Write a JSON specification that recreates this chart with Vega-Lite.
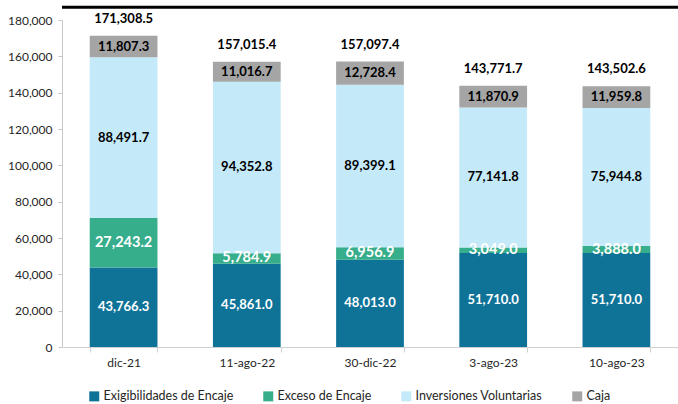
{
  "$schema": "https://vega.github.io/schema/vega-lite/v6.json",
  "width": 616,
  "height": 327,
  "autosize": {"type": "none"},
  "padding": {"left": 62, "top": 20, "right": 0, "bottom": 57},
  "background": "white",
  "config": {"view": {"stroke": null}, "font": "Lato"},
  "resolve": {"axis": {"y": "independent", "x": "independent"}},
  "datasets": {
    "seg": [
      {"fecha": "dic-21", "cat": "Exigibilidades de Encaje", "ord": 1, "valor": 43766.3},
      {"fecha": "dic-21", "cat": "Exceso de Encaje", "ord": 2, "valor": 27243.2},
      {"fecha": "dic-21", "cat": "Inversiones Voluntarias", "ord": 3, "valor": 88491.7},
      {"fecha": "dic-21", "cat": "Caja", "ord": 4, "valor": 11807.3},
      {"fecha": "11-ago-22", "cat": "Exigibilidades de Encaje", "ord": 1, "valor": 45861.0},
      {"fecha": "11-ago-22", "cat": "Exceso de Encaje", "ord": 2, "valor": 5784.9},
      {"fecha": "11-ago-22", "cat": "Inversiones Voluntarias", "ord": 3, "valor": 94352.8},
      {"fecha": "11-ago-22", "cat": "Caja", "ord": 4, "valor": 11016.7},
      {"fecha": "30-dic-22", "cat": "Exigibilidades de Encaje", "ord": 1, "valor": 48013.0},
      {"fecha": "30-dic-22", "cat": "Exceso de Encaje", "ord": 2, "valor": 6956.9},
      {"fecha": "30-dic-22", "cat": "Inversiones Voluntarias", "ord": 3, "valor": 89399.1},
      {"fecha": "30-dic-22", "cat": "Caja", "ord": 4, "valor": 12728.4},
      {"fecha": "3-ago-23", "cat": "Exigibilidades de Encaje", "ord": 1, "valor": 51710.0},
      {"fecha": "3-ago-23", "cat": "Exceso de Encaje", "ord": 2, "valor": 3049.0},
      {"fecha": "3-ago-23", "cat": "Inversiones Voluntarias", "ord": 3, "valor": 77141.8},
      {"fecha": "3-ago-23", "cat": "Caja", "ord": 4, "valor": 11870.9},
      {"fecha": "10-ago-23", "cat": "Exigibilidades de Encaje", "ord": 1, "valor": 51710.0},
      {"fecha": "10-ago-23", "cat": "Exceso de Encaje", "ord": 2, "valor": 3888.0},
      {"fecha": "10-ago-23", "cat": "Inversiones Voluntarias", "ord": 3, "valor": 75944.8},
      {"fecha": "10-ago-23", "cat": "Caja", "ord": 4, "valor": 11959.8}
    ],
    "tot": [
      {"fecha": "dic-21", "total": 171308.5},
      {"fecha": "11-ago-22", "total": 157015.4},
      {"fecha": "30-dic-22", "total": 157097.4},
      {"fecha": "3-ago-23", "total": 143771.7},
      {"fecha": "10-ago-23", "total": 143502.6}
    ]
  },
  "layer": [
    {
      "data": {"name": "seg"},
      "mark": {"type": "bar"},
      "encoding": {
        "x": {
          "field": "fecha",
          "type": "nominal",
          "sort": null,
          "scale": {"paddingInner": 0.45, "paddingOuter": 0.225},
          "axis": {
            "title": null,
            "labelAngle": 0,
            "labelFontSize": 12,
            "labelColor": "#262626",
            "domainColor": "#D0D0D0",
            "tickColor": "#D0D0D0",
            "tickSize": 5,
            "tickBand": "extent",
            "labelPadding": 5
          }
        },
        "y": {
          "field": "valor",
          "type": "quantitative",
          "stack": "zero",
          "scale": {"domain": [0, 180000], "nice": false},
          "axis": {
            "title": null,
            "grid": false,
            "format": ",.0f",
            "values": [0, 20000, 40000, 60000, 80000, 100000, 120000, 140000, 160000, 180000],
            "labelFontSize": 12,
            "labelColor": "#262626",
            "domainColor": "#C8C8C8",
            "tickColor": "#C8C8C8",
            "tickSize": 4,
            "labelPadding": 6
          }
        },
        "color": {
          "field": "cat",
          "type": "nominal",
          "scale": {
            "domain": ["Exigibilidades de Encaje", "Exceso de Encaje", "Inversiones Voluntarias", "Caja"],
            "range": ["#0F7398", "#36AD8B", "#C4E9F8", "#A5A5A5"]
          },
          "legend": {
            "title": null,
            "orient": "none",
            "direction": "horizontal",
            "legendX": 26,
            "legendY": 370,
            "symbolType": "square",
            "symbolSize": 100,
            "symbolStrokeWidth": 0,
            "symbolOpacity": 1,
            "labelFontSize": 12.5,
            "labelColor": "#262626",
            "columnPadding": 28,
            "labelOffset": 3
          }
        },
        "order": {"field": "ord", "type": "quantitative"}
      }
    },
    {
      "data": {"name": "seg"},
      "mark": {"type": "text", "fontWeight": "bold", "baseline": "middle"},
      "encoding": {
        "x": {"field": "fecha", "type": "nominal", "sort": null, "axis": null},
        "y": {"field": "valor", "type": "quantitative", "stack": "zero", "bandPosition": 0.5, "axis": null},
        "order": {"field": "ord", "type": "quantitative"},
        "text": {"field": "valor", "type": "quantitative", "format": ",.1f"},
        "color": {
          "condition": {"test": "datum.ord >= 3", "value": "#000000"},
          "value": "#FFFFFF"
        },
        "size": {
          "condition": {"test": "datum.ord == 2", "value": 14.5},
          "value": 13
        }
      }
    },
    {
      "data": {"name": "tot"},
      "mark": {"type": "text", "fontWeight": "bold", "baseline": "middle", "dy": -17, "fontSize": 13, "color": "#000000"},
      "encoding": {
        "x": {"field": "fecha", "type": "nominal", "sort": null, "axis": null},
        "y": {"field": "total", "type": "quantitative", "axis": null},
        "text": {"field": "total", "type": "quantitative", "format": ",.1f"}
      }
    },
    {
      "data": {"values": [{}]},
      "mark": {"type": "rule", "color": "#000000", "strokeWidth": 3, "clip": false},
      "encoding": {
        "y": {"datum": 187000, "axis": null}
      }
    }
  ]
}
